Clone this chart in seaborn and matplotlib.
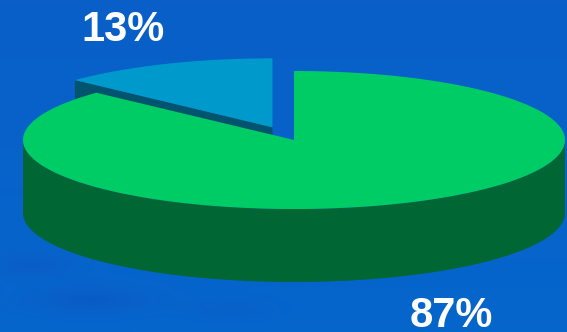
import numpy as np
import matplotlib
matplotlib.use("Agg")
import matplotlib.pyplot as plt
import seaborn as sns
from matplotlib.colors import LinearSegmentedColormap

sns.set_theme(style="white")
plt.rcParams["font.family"] = ["Liberation Sans", "DejaVu Sans"]

# Data
labels = ["Minority", "Majority"]
shares = [13, 87]
label_text = [f"{s}%" for s in shares]

# Styling
top_colors = ["#0099CC", "#00CC66"]
side_colors = ["#00546E", "#006633"]
explode = [0.2, 0.0]

W, H = 567, 332
fig = plt.figure(figsize=(W / 100, H / 100), dpi=100)
ax = fig.add_axes([0, 0, 1, 1])
ax.set_xlim(0, W)
ax.set_ylim(H, 0)
ax.axis("off")

# Background: blue wash with soft darker streaks toward the lower left
yy, xx = np.mgrid[0:H, 0:W]
base = yy / H
streaks = (
    np.exp(-(((xx - 90) / 60) ** 2 + ((yy - 300) / 14) ** 2))
    + 0.8 * np.exp(-(((xx - 30) / 40) ** 2 + ((yy - 265) / 12) ** 2))
    + 0.6 * np.exp(-(((xx - 230) / 40) ** 2 + ((yy - 310) / 10) ** 2))
)
field = 0.5 * base - 0.6 * streaks
bg_cmap = LinearSegmentedColormap.from_list("bg", ["#0450B8", "#0A5EC8", "#0566CC"])
ax.imshow(field, cmap=bg_cmap, vmin=-0.6, vmax=0.5, extent=(0, W, H, 0),
          aspect="auto", zorder=0, interpolation="bilinear")

# 3D pie geometry
cx, cy = 294.0, 140.0
a, b = 271.0, 69.0
depth = 73.0


def pt(theta, r=1.0, ox=0.0, oy=0.0):
    return cx + ox + a * r * np.cos(theta), cy + oy - b * r * np.sin(theta)


start = np.pi / 2
wedges = []
for i, s in enumerate(shares):
    span = 2 * np.pi * s / 100.0
    t0, t1 = start, start + span
    mid = (t0 + t1) / 2
    ox = a * explode[i] * np.cos(mid)
    oy = -b * explode[i] * np.sin(mid)
    wedges.append((t0, t1, ox, oy))
    start = t1

# Draw the exploded small wedge first (it sits behind)
for i in range(len(shares)):
    t0, t1, ox, oy = wedges[i]
    th = np.linspace(t0, t1, 300)
    ex, ey = pt(th, ox=ox, oy=oy)
    tcx, tcy = cx + ox, cy + oy

    # Radial face at the far end of the wedge
    rx, ry = pt(t1, ox=ox, oy=oy)
    ax.fill([tcx, rx, rx, tcx], [tcy, ry, ry + depth, tcy + depth],
            color=side_colors[i], lw=0, zorder=2 + 2 * i)

    # Outer wall on the front half
    lo, hi = max(t0, np.pi), min(t1, 2 * np.pi)
    if hi > lo:
        tw = np.linspace(lo, hi, 300)
        wx, wy = pt(tw, ox=ox, oy=oy)
        ax.fill(np.concatenate([wx, wx[::-1]]),
                np.concatenate([wy, wy[::-1] + depth]),
                color=side_colors[i], lw=0, zorder=2 + 2 * i)

    # Top face
    ax.fill(np.concatenate([[tcx], ex]), np.concatenate([[tcy], ey]),
            color=top_colors[i], lw=0, zorder=3 + 2 * i)

# Percentage labels
ax.text(123, 41, label_text[0], color="white", fontsize=30, fontweight="bold",
        ha="center", va="baseline", zorder=10)
ax.text(451, 327, label_text[1], color="white", fontsize=30, fontweight="bold",
        ha="center", va="baseline", zorder=10)

fig.savefig("out.png", dpi=100)
